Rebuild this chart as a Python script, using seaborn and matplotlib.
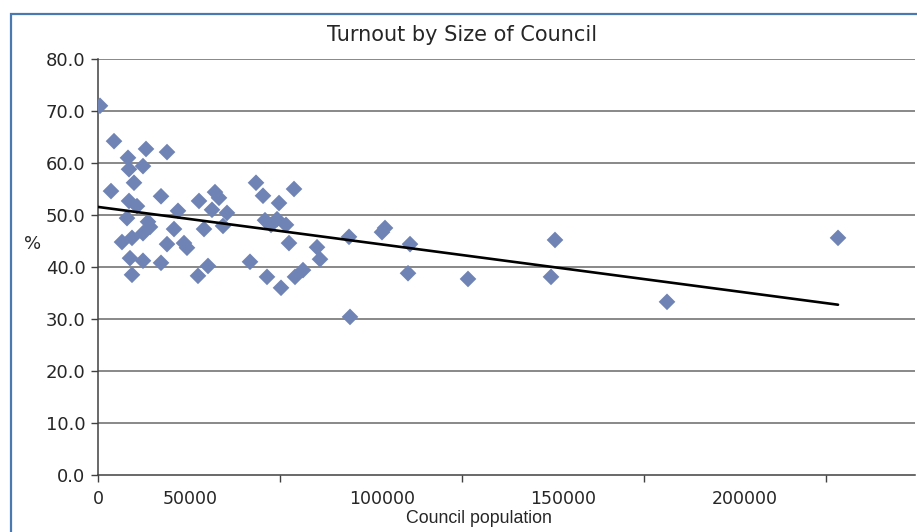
import numpy as np
import pandas as pd
import matplotlib
matplotlib.use("Agg")
import matplotlib.pyplot as plt
from matplotlib.patches import Rectangle
import seaborn as sns

# council population vs turnout (%)
population = [550, 4400, 8240, 13190, 18960, 8520, 12360, 9890, 3570, 17310,
              8520, 10710, 21980, 7970, 13740, 14290, 12360, 20880, 6590, 9340,
              18960, 23630, 24450, 8790, 12360, 17310, 9340, 27470, 30220, 27750,
              31320, 32140, 33240, 29120, 35440, 34340, 43410, 45330, 53850, 49730,
              45880, 47530, 49180, 51650, 52470, 41760, 46430, 50280, 54120, 56320,
              60170, 60990, 68960, 69230, 78020, 78850, 85720, 85170, 101650, 124450,
              125550, 156320, 203300]
turnout = [71.0, 64.2, 61.0, 62.7, 62.1, 58.8, 59.4, 56.2, 54.6, 53.6,
           52.7, 51.7, 50.8, 49.4, 48.7, 47.7, 46.5, 47.3, 44.8, 45.6,
           44.4, 44.6, 43.7, 41.7, 41.2, 40.8, 38.5, 38.3, 40.2, 52.7,
           51.0, 54.4, 53.3, 47.3, 50.4, 47.9, 56.2, 53.7, 55.0, 52.3,
           49.0, 48.1, 49.2, 48.1, 44.6, 41.0, 38.1, 36.0, 38.1, 39.4,
           43.8, 41.5, 45.8, 30.4, 46.7, 47.5, 44.4, 38.8, 37.7, 38.1,
           45.2, 33.3, 45.6]

y_ticks = [0, 10, 20, 30, 40, 50, 60, 70, 80]
x_tick_marks = [0, 50000, 100000, 150000, 200000]
x_tick_labels = ["0", "50000", "100000", "150000", "200000"]
# where the labels sit in the original (they are offset from the tick marks)
x_label_pos = [0, 25300, 78000, 127700, 177700]

df = pd.DataFrame({"population": population, "turnout": turnout})

sns.set_style("white")
plt.rcParams["font.family"] = ["DejaVu Sans"]

fig = plt.figure(figsize=(9.17, 5.32), dpi=100)
ax = fig.add_axes([98 / 917, 57 / 532, (915 - 98) / 917, (475 - 59) / 532])

# outer blue frame, cut off at right and bottom like the source
fig.patches.append(Rectangle((11 / 917, -0.05), 1.2, (532 - 14) / 532 + 0.05,
                             transform=fig.transFigure, fill=False,
                             edgecolor="#4A78B0", linewidth=1.6, zorder=0))

for t in y_ticks[1:]:
    ax.axhline(t, color="#7F7F7F", linewidth=1.3, zorder=1)

sns.scatterplot(data=df, x="population", y="turnout", marker="D", s=72,
                color="#6F83B5", edgecolor="none", linewidth=0, ax=ax, zorder=3)

# linear trendline
coef = np.polyfit(df["population"], df["turnout"], 1)
xs = np.array([0, df["population"].max()])
sns.lineplot(x=xs, y=np.polyval(coef, xs), color="black", linewidth=1.9, ax=ax, zorder=4)

ax.set_xlim(0, 224450)
ax.set_ylim(0, 80)

ax.set_yticks(y_ticks)
ax.set_yticklabels([f"{t:.1f}" for t in y_ticks], fontsize=13, color="#262626")
ax.tick_params(axis="y", which="major", direction="out", length=5, width=1,
               color="#404040", pad=4, left=True)

ax.xaxis.remove_overlapping_locs = False
ax.set_xticks(x_tick_marks)
ax.set_xticklabels([""] * len(x_tick_marks))
ax.tick_params(axis="x", which="major", direction="out", length=5, width=1,
               color="#404040", bottom=True)
ax.set_xticks(x_label_pos, minor=True)
ax.set_xticklabels(x_tick_labels, minor=True, fontsize=12.5, color="#262626")
ax.tick_params(axis="x", which="minor", length=0, pad=11)

for side in ["top", "right"]:
    ax.spines[side].set_visible(False)
for side in ["left", "bottom"]:
    ax.spines[side].set_color("#404040")
    ax.spines[side].set_linewidth(1.1)

ax.set_xlabel("Council population", fontsize=12.8, color="#262626",
              family=["Liberation Sans"])
ax.xaxis.set_label_coords((479 - 98) / (915 - 98), -(510 - 475) / (475 - 59))
ax.set_ylabel("%", fontsize=13, rotation=0, color="#262626")
ax.yaxis.set_label_coords((33 - 98) / (915 - 98), (475 - 253) / (475 - 59))

fig.text(462 / 917, 1 - 35 / 532, "Turnout by Size of Council", ha="center",
         va="center", fontsize=15, color="#262626",
         family=["Liberation Sans Narrow", "DejaVu Sans"])

fig.savefig("out.png", dpi=100)
